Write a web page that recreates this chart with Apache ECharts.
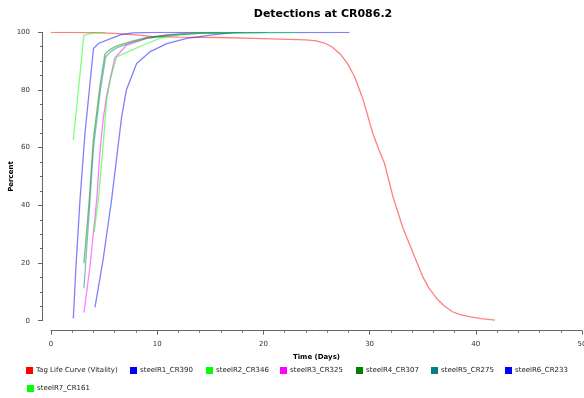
<!DOCTYPE html>
<html><head><meta charset="utf-8">
<script src="https://cdn.jsdelivr.net/npm/echarts@6/dist/echarts.min.js"></script>
<style>html,body{margin:0;padding:0;background:#fff}#c{width:584px;height:398px}</style>
</head><body><div id="c"></div>
<script>
const titleText = 'Detections at CR086.2';
const xAxisName = 'Time (Days)';
const yAxisName = 'Percent';
const xTicks = [0, 10, 20, 30, 40, 50];
const yTicks = [0, 20, 40, 60, 80, 100];
const seriesNames = ['Tag Life Curve (Vitality)', 'steelR1_CR390', 'steelR2_CR346', 'steelR3_CR325', 'steelR4_CR307', 'steelR5_CR275', 'steelR6_CR233', 'steelR7_CR161'];

const tagLife = [[0,100],[2,100],[4,99.9],[6,99.6],[8,99.1],[9.5,98.6],[12,98.3],[16,98.2],[20,97.8],[24,97.4],[25,97],[25.8,96.2],[26.5,94.8],[27.2,92.6],[27.9,89.3],[28.6,84.5],[29.4,76.5],[30.3,65],[30.9,59],[31.4,54.6],[32.2,43],[33.1,32.6],[34.1,23.4],[35,15.3],[35.6,11.2],[36.3,7.8],[37,5.2],[37.8,3.1],[38.6,2.0],[39.4,1.4],[40.5,0.7],[41.8,0.2]];
const steelR1 = [[2.1,0.8],[2.35,18.7],[2.73,41.8],[3.2,65],[3.5,76],[4.0,94.4],[4.5,96.2],[5.5,97.6],[6.6,99.2],[7.7,99.8],[10,100],[16,100]];
const steelR2 = [[2.1,62.6],[3.1,99],[4,99.7],[5.1,100]];
const steelR3 = [[3.1,2.8],[3.67,18.7],[4.3,41.8],[4.6,58],[4.92,70],[5.24,78],[5.55,83.4],[6.0,91],[7.1,95.5],[9,97.9],[11,99.2],[13,99.8],[16.5,100]];
const steelR4 = [[3.1,19.9],[3.6,41.8],[3.98,62.6],[4.6,81.1],[5.08,92.5],[5.55,94],[6.2,95.3],[7.4,96.7],[9,98.2],[10.9,99],[14,99.7],[18,100]];
const steelR5 = [[3.1,11.2],[3.6,38],[4.0,60],[4.65,80],[5.15,91.5],[5.6,93.2],[6.3,94.8],[7.5,96.4],[9,97.9],[11,98.8],[14,99.6],[20.3,100]];
const steelR6 = [[4.14,4.6],[4.9,21],[5.7,41.8],[6.65,70.7],[7.1,80],[8.06,89.2],[9.3,93.2],[10.9,96.1],[12.8,97.9],[15,99],[17.1,99.9],[28.1,100]];
const steelR7 = [[4.07,30.8],[4.45,41.8],[4.77,55],[4.95,62.6],[5.24,76.5],[5.6,84],[6.18,91.5],[7.4,93.5],[8.7,95.6],[10.25,97.9],[11.5,99],[13.5,99.8],[23.2,100]];

const seriesData = [tagLife, steelR1, steelR2, steelR3, steelR4, steelR5, steelR6, steelR7];
const colors = ['#ff0000','#0000ff','#00ff00','#ff00ff','#008000','#008080','#0000ff','#00ff00'];
const legendPos = [[26,367],[130,367],[206,367],[280,367],[356,367],[431,367],[505,367],[27,385]];

const chart = echarts.init(document.getElementById('c'), null, {renderer: 'canvas'});
const font = 'DejaVu Sans';
const option = {
  animation: false,
  backgroundColor: '#fff',
  title: {
    text: titleText, left: 318, top: 4, textAlign: 'center',
    textStyle: {fontFamily: font, fontSize: 11, fontWeight: 'bold', color: '#000'}
  },
  legend: seriesNames.map((n, i) => ({
    data: [n], left: legendPos[i][0], top: legendPos[i][1], padding: 0,
    icon: 'rect', itemWidth: 7, itemHeight: 7,
    textStyle: {fontFamily: font, fontSize: 7, color: '#222', padding: [0,0,0,-2]}
  })),
  grid: {left: 51, right: 2, top: 32.3, bottom: 77.3, containLabel: false, outerBoundsMode: 'none'},
  xAxis: {
    type: 'value', min: xTicks[0], max: xTicks[xTicks.length-1], interval: 10, offset: 10,
    name: xAxisName, nameLocation: 'middle', nameGap: 23, nameMoveOverlap: false,
    nameTextStyle: {fontFamily: font, fontSize: 7, fontWeight: 'bold', color: '#000'},
    axisLine: {show: true, onZero: false, lineStyle: {color: '#666', width: 1}},
    axisTick: {show: true, length: 4, lineStyle: {color: '#666'}},
    minorTick: {show: true, splitNumber: 5, length: 2, lineStyle: {color: '#666'}},
    splitLine: {show: false},
    axisLabel: {fontFamily: font, fontSize: 7, color: '#333', margin: 10}
  },
  yAxis: {
    type: 'value', min: yTicks[0], max: yTicks[yTicks.length-1], interval: 20, offset: 9,
    name: yAxisName, nameLocation: 'middle', nameGap: 27, nameMoveOverlap: false,
    nameTextStyle: {fontFamily: font, fontSize: 7, fontWeight: 'bold', color: '#000'},
    axisLine: {show: true, onZero: false, lineStyle: {color: '#666', width: 1}},
    axisTick: {show: true, length: 4, lineStyle: {color: '#666'}},
    minorTick: {show: true, splitNumber: 4, length: 2, lineStyle: {color: '#666'}},
    splitLine: {show: false},
    axisLabel: {fontFamily: font, fontSize: 7, color: '#333', margin: 12}
  },
  series: seriesNames.map((n, i) => ({
    name: n, type: 'line', data: seriesData[i], showSymbol: false, symbol: 'none',
    smooth: false, color: colors[i],
    lineStyle: {color: colors[i], width: 1.3, opacity: 0.5}
  }))
};
chart.setOption(option);
</script>
</body></html>
